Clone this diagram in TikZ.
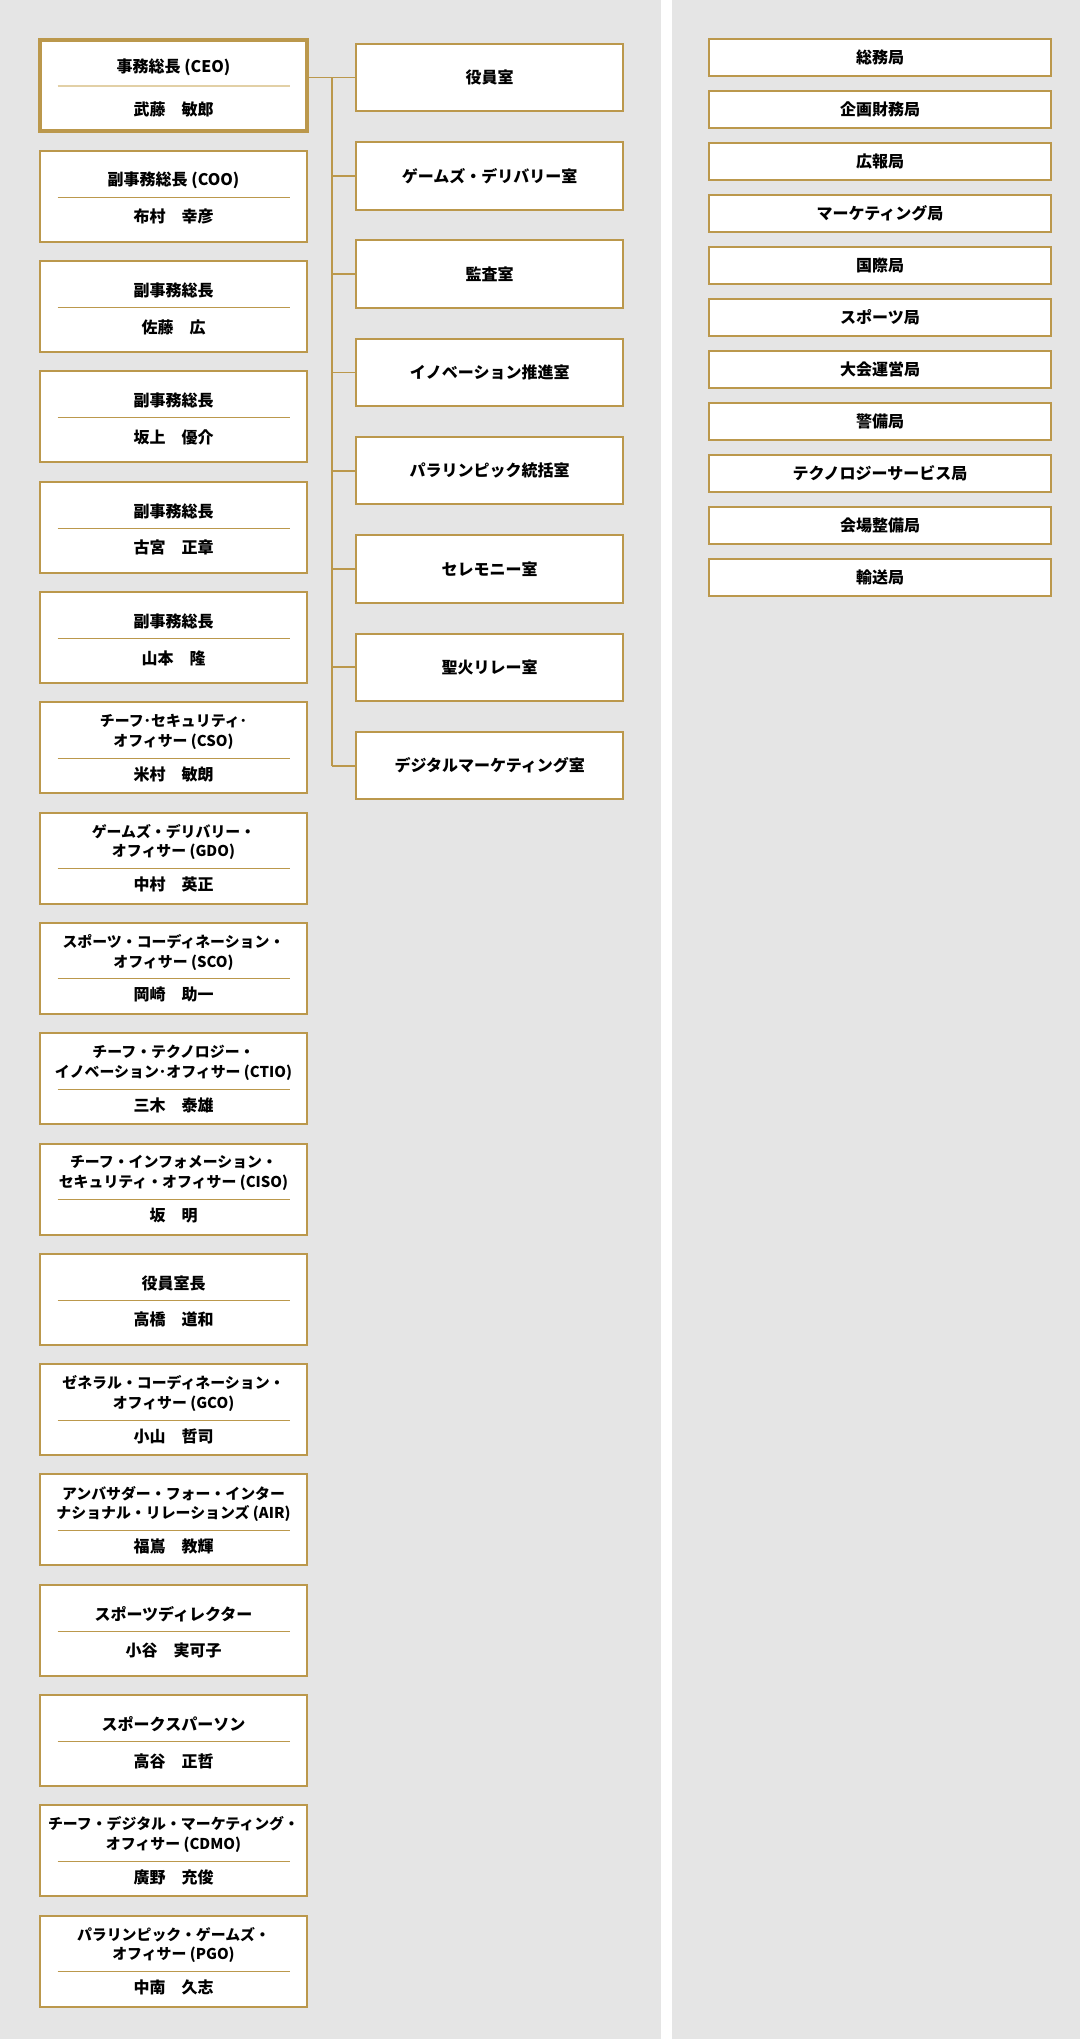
\documentclass[tikz,border=0pt]{standalone}
\usepackage{fontspec}
\setmainfont{Noto Sans CJK JP}
\definecolor{gold}{RGB}{187,152,76}
\definecolor{goldhell}{RGB}{226,208,166}
\definecolor{hgrau}{RGB}{229,229,229}

\begin{document}
\begin{tikzpicture}[x=1pt, y=-1pt, line width=2pt,
    kasten/.style={draw=gold, fill=white, inner sep=0pt, minimum width=267pt},
    lkasten/.style={kasten, minimum height=91pt},
    mkasten/.style={kasten, minimum height=67.5pt, font=\bfseries\fontsize{16}{20}\selectfont},
    rkasten/.style={kasten, minimum width=342.3pt, minimum height=37.5pt, font=\bfseries\fontsize{16}{20}\selectfont},
    titel/.style={align=center, inner sep=0pt},
    trenn/.style={draw=gold, line width=1pt},
    verb/.style={draw=gold, line width=1.8pt}]
    % Hintergrund.
    \useasboundingbox (0,0) rectangle (1080,2039);
    \fill[hgrau] (0,0) rectangle (1080,2039);
    \fill[white] (661,0) rectangle (672,2039);

    % Linke Spalte: Geschaeftsfuehrung.
    \node[lkasten, line width=4pt] (l1) at (173.5,86) {};
    \node[titel, font=\bfseries\fontsize{16}{20}\selectfont] (l1t) at (173.5,67) {事務総長 (CEO)};
    \draw[draw=goldhell, line width=1.5pt] (57.5,86) -- (289.5,86);
    \node[titel, font=\bfseries\fontsize{16}{20}\selectfont] (l1n) at (173.5,109) {武藤　敏郎};

    \foreach \i/\h/\t/\n in {
        2/1/{副事務総長 (COO)}/{布村　幸彦},
        3/1/{副事務総長}/{佐藤　広},
        4/1/{副事務総長}/{坂上　優介},
        5/1/{副事務総長}/{古宮　正章},
        6/1/{副事務総長}/{山本　隆},
        7/2/{チーフ･セキュリティ･\\オフィサー (CSO)}/{米村　敏朗},
        8/2/{ゲームズ・デリバリー・\\オフィサー (GDO)}/{中村　英正},
        9/2/{スポーツ・コーディネーション・\\オフィサー (SCO)}/{岡崎　助一},
        10/2/{チーフ・テクノロジー・\\イノベーション･オフィサー (CTIO)}/{三木　泰雄},
        11/2/{チーフ・インフォメーション・\\セキュリティ・オフィサー (CISO)}/{坂　明},
        12/1/{役員室長}/{高橋　道和},
        13/2/{ゼネラル・コーディネーション・\\オフィサー (GCO)}/{小山　哲司},
        14/2/{アンバサダー・フォー・インター\\ナショナル・リレーションズ (AIR)}/{福嶌　教輝},
        15/1/{スポーツディレクター}/{小谷　実可子},
        16/1/{スポークスパーソン}/{高谷　正哲},
        17/2/{チーフ・デジタル・マーケティング・\\オフィサー (CDMO)}/{廣野　充俊},
        18/2/{パラリンピック・ゲームズ・\\オフィサー (PGO)}/{中南　久志}}
    {
        \pgfmathsetmacro\yc{86+110.3*(\i-1)}
        \pgfmathsetmacro\yd{\yc+1+9.5*(\h-1)}
        \pgfmathsetmacro\yn{\yc+20.5+6*(\h-1)}
        \pgfmathsetmacro\fs{16-1.1*(\h-1)}
        \node[lkasten] (l\i) at (173.5,\yc) {};
        \node[titel, font=\bfseries\fontsize{\fs}{19.7}\selectfont] (l\i t) at (173.5,\yc-16) {\t};
        \draw[trenn] (57.5,\yd) -- (289.5,\yd);
        \node[titel, font=\bfseries\fontsize{16}{20}\selectfont] (l\i n) at (173.5,\yn) {\n};
    }

    % Mittlere Spalte: Stabsstellen.
    \foreach \i/\t in {1/役員室, 2/ゲームズ・デリバリー室, 3/監査室, 4/イノベーション推進室,
        5/パラリンピック統括室, 6/セレモニー室, 7/聖火リレー室, 8/デジタルマーケティング室}
    {
        \node[mkasten] (m\i) at (489.7,{77.5+98.3*(\i-1)}) {\t};
    }

    % Verbindungen.
    \coordinate (stamm) at (332,0);
    \draw[verb] (m1.west -| l1.east) -- (m1.west);
    \draw[verb] (stamm |- m1.west) -- (stamm |- m8.west);
    \foreach \i in {2,...,8}
    {
        \draw[verb] (stamm |- m\i.west) -- (m\i.west);
    }

    % Rechte Spalte: Bueros.
    \foreach \i/\t in {1/総務局, 2/企画財務局, 3/広報局, 4/マーケティング局, 5/国際局, 6/スポーツ局,
        7/大会運営局, 8/警備局, 9/テクノロジーサービス局, 10/会場整備局, 11/輸送局}
    {
        \node[rkasten] (r\i) at (880,{57.3+52*(\i-1)}) {\t};
    }
\end{tikzpicture}
\end{document}
